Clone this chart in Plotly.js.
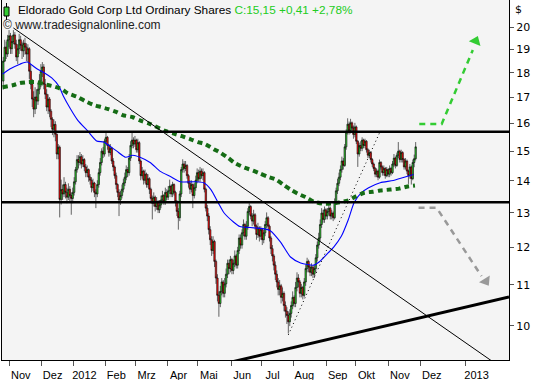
<!DOCTYPE html>
<html><head><meta charset="utf-8">
<script src="https://cdn.plot.ly/plotly-3.0.1.min.js"></script>
<style>html,body{margin:0;padding:0;background:#fff}#chart{width:534px;height:380px}</style>
</head><body><div id="chart"></div>
<script>
// Daily bars, trading days from 2011-10-25 to 2012-11-27
const firstDay = [2011, 9, 25];
const open = [17.65,18.49,19.10,18.80,19.43,
19.61,19.03,19.35,19.65,19.23,18.67,19.03,19.43,19.18,18.94,
19.27,19.10,18.80,19.03,18.06,17.52,16.93,16.54,17.01,16.85,
17.32,17.65,18.06,18.24,17.52,17.12,16.62,16.93,16.46,16.15,
15.78,15.96,15.60,14.90,15.14,13.41,13.72,13.58,13.88,13.63,
13.48,13.73,13.53,13.44,13.63,13.97,14.37,14.71,14.61,14.81,
14.56,14.71,14.46,14.27,14.37,14.12,14.02,13.78,13.93,13.63,
13.58,13.88,14.27,14.61,15.00,14.90,15.35,15.49,15.20,14.95,
15.10,14.66,14.46,14.17,13.88,13.63,13.39,13.53,13.73,13.93,
14.12,14.37,14.27,14.76,15.20,15.39,15.25,15.39,15.05,15.30,
14.66,14.17,14.32,14.02,14.22,13.88,14.07,13.73,13.44,13.29,
13.48,13.19,13.34,13.09,13.24,13.39,13.53,13.34,13.63,13.48,
13.68,13.83,13.58,13.88,13.63,13.34,13.04,12.85,13.58,14.37,
14.56,14.41,14.51,14.17,13.92,13.73,13.88,13.53,13.78,14.02,
14.27,14.07,14.32,14.17,14.27,13.73,13.14,12.90,12.50,12.21,
11.91,12.16,11.61,11.17,10.73,10.53,10.83,11.07,10.78,11.02,
11.27,11.56,11.42,11.66,11.37,11.56,11.76,11.51,11.91,12.26,
12.06,12.41,12.65,12.31,12.60,13.04,13.19,12.90,12.75,12.94,
12.60,12.36,12.55,12.31,12.50,12.21,12.41,12.65,12.85,12.60,
12.26,11.96,11.76,11.51,11.27,11.07,10.88,10.97,10.68,10.78,
10.48,10.34,10.24,10.09,10.29,10.48,10.68,10.53,10.93,11.17,
11.07,10.78,10.93,10.73,11.07,11.42,11.61,11.46,11.32,11.46,
11.27,11.42,11.71,12.06,12.26,12.65,12.99,12.80,13.09,12.90,
13.04,13.14,12.90,12.99,12.85,13.34,13.68,13.92,14.12,14.37,
14.66,14.51,15.15,15.68,15.97,15.73,16.02,15.83,15.59,15.87,
15.35,14.90,15.20,15.10,15.39,15.20,15.35,15.05,14.86,14.95,
14.71,14.56,14.41,14.22,14.32,14.12,14.61,14.46,14.27,14.41,
14.17,14.37,14.22,14.41,14.27,14.56,14.76,14.51,14.86,15.00,
14.71,14.95,14.71,14.46,14.66,14.32,14.17,14.46,14.07,14.61,
14.74];
const high = [18.67,19.43,19.35,19.65,19.87,
19.74,19.61,19.87,19.78,19.43,19.23,19.70,19.61,19.35,19.43,
19.52,19.27,19.23,19.10,18.36,17.74,17.24,17.40,17.32,17.57,
17.94,18.36,18.45,18.36,17.74,17.32,17.12,17.01,16.54,16.23,
16.15,16.08,15.63,15.25,15.20,14.04,13.88,14.12,13.97,13.78,
13.92,13.83,13.63,13.78,14.12,14.46,14.86,14.86,14.97,14.90,
14.86,14.76,14.56,14.51,14.41,14.22,14.12,14.07,13.97,13.73,
14.02,14.41,14.76,15.10,15.15,15.44,15.68,15.54,15.25,15.25,
15.15,14.76,14.51,14.27,13.92,13.73,13.68,13.88,14.07,14.27,
14.51,14.46,14.90,15.35,15.71,15.49,15.54,15.44,15.44,15.35,
14.71,14.46,14.37,14.37,14.27,14.22,14.12,13.78,13.53,13.63,
13.53,13.48,13.39,13.39,13.53,13.68,13.58,13.78,13.73,13.83,
14.04,13.88,13.97,13.92,13.68,13.39,13.14,13.68,14.46,14.72,
14.66,14.66,14.56,14.22,14.02,14.02,13.92,13.92,14.17,14.41,
14.37,14.46,14.41,14.41,14.32,13.78,13.24,12.99,12.60,12.31,
12.31,12.21,11.66,11.27,10.83,10.97,11.17,11.12,11.17,11.42,
11.66,11.66,11.76,11.71,11.66,11.91,11.81,12.01,12.36,12.36,
12.51,12.80,12.70,12.75,13.14,13.29,13.24,12.99,13.09,12.99,
12.65,12.70,12.60,12.60,12.55,12.50,12.75,13.01,12.90,12.65,
12.31,12.06,11.81,11.61,11.37,11.17,11.12,11.02,10.93,10.83,
10.58,10.44,10.34,10.39,10.58,10.83,10.73,11.07,11.32,11.27,
11.12,11.02,10.97,11.17,11.52,11.71,11.66,11.51,11.56,11.51,
11.51,11.81,12.16,12.41,12.80,13.14,13.09,13.19,13.14,13.14,
13.24,13.19,13.09,13.04,13.44,13.78,14.07,14.27,14.51,14.81,
14.76,15.25,15.78,16.19,16.07,16.17,16.07,15.92,16.02,15.92,
15.39,15.30,15.35,15.49,15.44,15.44,15.39,15.10,15.05,15.00,
14.76,14.61,14.46,14.41,14.37,14.71,14.66,14.51,14.51,14.46,
14.46,14.41,14.51,14.46,14.66,14.90,14.81,14.95,15.32,15.05,
15.05,15.00,14.76,14.76,14.71,14.37,14.56,14.51,14.71,14.88,
15.32];
const low = [17.31,18.45,18.58,18.67,19.10,
18.80,18.80,19.23,19.03,18.49,18.36,18.80,18.94,18.58,18.67,
18.77,18.49,18.45,17.74,17.32,16.62,16.23,16.35,16.54,16.70,
17.12,17.40,17.82,17.32,16.93,16.46,16.35,16.23,15.86,15.57,
15.49,15.35,14.72,14.72,12.86,13.25,13.39,13.48,13.44,13.29,
13.39,13.34,12.94,13.29,13.53,13.88,14.27,14.41,14.51,14.41,
14.46,14.32,14.12,14.12,13.97,13.88,13.63,13.68,13.48,13.14,
13.48,13.78,14.17,14.51,14.76,14.81,15.25,15.05,14.81,14.86,
14.56,14.32,14.07,13.73,13.48,12.90,13.24,13.44,13.63,13.83,
14.02,14.12,14.17,14.66,15.10,15.10,15.15,14.95,14.95,14.56,
14.02,14.07,13.88,13.92,13.78,13.78,13.58,13.29,12.80,13.19,
13.04,13.09,12.99,12.99,13.14,13.29,13.24,13.24,13.39,13.39,
13.58,13.48,13.48,13.53,13.19,12.90,12.50,12.75,13.48,14.27,
14.27,14.32,14.07,13.78,13.58,13.63,13.14,13.44,13.68,13.92,
13.97,13.97,14.07,14.02,13.63,13.04,12.75,12.36,12.06,11.76,
11.81,11.46,11.02,10.58,10.21,10.44,10.73,10.68,10.68,10.93,
11.17,11.27,11.32,11.27,11.27,11.46,11.42,11.42,11.81,11.96,
11.96,12.31,12.21,12.21,12.50,12.94,12.80,12.60,12.65,12.50,
12.21,12.26,12.16,12.21,12.06,12.11,12.31,12.55,12.50,12.16,
11.81,11.61,11.37,11.12,10.93,10.73,10.73,10.53,10.58,10.34,
10.19,10.04,9.82,9.99,10.19,10.39,10.44,10.44,10.83,10.93,
10.68,10.68,10.63,10.68,10.97,11.32,11.32,11.22,11.22,11.17,
11.17,11.32,11.61,11.96,12.16,12.55,12.70,12.70,12.80,12.80,
12.94,12.80,12.80,12.75,12.80,13.24,13.58,13.83,14.02,14.27,
14.37,14.46,15.05,15.59,15.59,15.63,15.68,15.44,15.49,15.25,
14.46,14.81,15.00,15.00,15.10,15.10,14.95,14.76,14.76,14.61,
14.46,14.32,14.12,14.12,14.02,14.07,14.37,14.17,14.17,14.07,
14.12,14.12,14.12,14.17,14.22,14.46,14.41,14.46,14.76,14.61,
14.61,14.61,14.37,14.37,14.22,13.90,14.07,13.88,14.02,14.45,
14.68];
const close = [18.49,19.10,18.80,19.43,19.61,
19.03,19.35,19.65,19.23,18.67,19.03,19.43,19.18,18.94,19.27,
19.10,18.80,19.03,18.06,17.52,16.93,16.54,17.01,16.85,17.32,
17.65,18.06,18.24,17.52,17.12,16.62,16.93,16.46,16.15,15.78,
15.96,15.60,14.90,15.14,13.41,13.72,13.58,13.88,13.63,13.48,
13.73,13.53,13.44,13.63,13.97,14.37,14.71,14.61,14.81,14.56,
14.71,14.46,14.27,14.37,14.12,14.02,13.78,13.93,13.63,13.58,
13.88,14.27,14.61,15.00,14.90,15.35,15.49,15.20,14.95,15.10,
14.66,14.46,14.17,13.88,13.63,13.39,13.53,13.73,13.93,14.12,
14.37,14.27,14.76,15.20,15.39,15.25,15.39,15.05,15.30,14.66,
14.17,14.32,14.02,14.22,13.88,14.07,13.73,13.44,13.29,13.48,
13.19,13.34,13.09,13.24,13.39,13.53,13.34,13.63,13.48,13.68,
13.83,13.58,13.88,13.63,13.34,13.04,12.85,13.58,14.37,14.56,
14.41,14.51,14.17,13.92,13.73,13.88,13.53,13.78,14.02,14.27,
14.07,14.32,14.17,14.27,13.73,13.14,12.90,12.50,12.21,11.91,
12.16,11.61,11.17,10.73,10.53,10.83,11.07,10.78,11.02,11.27,
11.56,11.42,11.66,11.37,11.56,11.76,11.51,11.91,12.26,12.06,
12.41,12.65,12.31,12.60,13.04,13.19,12.90,12.75,12.94,12.60,
12.36,12.55,12.31,12.50,12.21,12.41,12.65,12.85,12.60,12.26,
11.96,11.76,11.51,11.27,11.07,10.88,10.97,10.68,10.78,10.48,
10.34,10.24,10.09,10.29,10.48,10.68,10.53,10.93,11.17,11.07,
10.78,10.93,10.73,11.07,11.42,11.61,11.46,11.32,11.46,11.27,
11.42,11.71,12.06,12.26,12.65,12.99,12.80,13.09,12.90,13.04,
13.14,12.90,12.99,12.85,13.34,13.68,13.92,14.12,14.37,14.66,
14.51,15.15,15.68,15.97,15.73,16.02,15.83,15.59,15.87,15.35,
14.90,15.20,15.10,15.39,15.20,15.35,15.05,14.86,14.95,14.71,
14.56,14.41,14.22,14.32,14.12,14.61,14.46,14.27,14.41,14.17,
14.37,14.22,14.41,14.27,14.56,14.76,14.51,14.86,15.00,14.71,
14.95,14.71,14.46,14.66,14.32,14.17,14.46,14.07,14.61,14.74,
15.15];

// Moving averages
const maFastDates = ['2011-10-25','2011-11-01','2011-11-10','2011-11-17','2011-11-28','2011-12-05','2011-12-12','2011-12-19','2011-12-22','2011-12-29','2012-01-05','2012-01-16','2012-01-24','2012-01-31','2012-02-06','2012-02-13','2012-02-21','2012-02-28','2012-03-06','2012-03-15','2012-03-26','2012-04-04','2012-04-13','2012-04-27','2012-05-07','2012-05-14','2012-05-21','2012-05-25','2012-06-05','2012-06-11','2012-06-20','2012-07-03','2012-07-10','2012-07-19','2012-07-30','2012-08-08','2012-08-21','2012-08-27','2012-09-04','2012-09-10','2012-09-17','2012-09-24','2012-09-28','2012-10-05','2012-10-12','2012-10-24','2012-11-06','2012-11-15','2012-11-26'];
const maFast = [17.94,18.15,18.36,18.45,18.15,17.99,17.78,17.44,17.05,16.54,16.11,15.71,15.36,15.32,15.18,15.00,14.79,14.86,14.79,14.61,14.31,14.14,13.97,13.97,13.94,13.72,13.31,13.00,12.71,12.59,12.56,12.53,12.47,12.15,11.73,11.57,11.51,11.60,11.84,12.01,12.30,12.80,13.31,13.62,13.78,13.94,14.01,14.11,14.21];
const maSlowDates = ['2011-10-25','2011-11-03','2011-11-10','2011-11-18','2011-11-28','2011-12-05','2011-12-13','2011-12-21','2011-12-27','2012-01-05','2012-01-12','2012-01-20','2012-01-27','2012-02-03','2012-02-13','2012-02-17','2012-02-28','2012-03-06','2012-03-14','2012-03-30','2012-04-06','2012-04-16','2012-04-24','2012-05-01','2012-05-08','2012-05-16','2012-05-23','2012-05-30','2012-06-06','2012-06-14','2012-06-22','2012-06-29','2012-07-06','2012-07-16','2012-07-23','2012-07-30','2012-08-06','2012-08-14','2012-08-21','2012-08-29','2012-09-06','2012-09-13','2012-09-24','2012-10-01','2012-10-09','2012-10-17','2012-10-24','2012-11-02','2012-11-12','2012-11-20','2012-11-27'];
const maSlow = [17.40,17.48,17.57,17.61,17.61,17.52,17.44,17.32,17.16,17.01,16.85,16.70,16.62,16.54,16.42,16.31,16.23,16.11,16.00,15.71,15.63,15.53,15.42,15.32,15.25,15.07,14.93,14.76,14.58,14.44,14.34,14.24,14.14,14.04,13.88,13.72,13.59,13.47,13.34,13.28,13.28,13.31,13.38,13.50,13.62,13.65,13.69,13.72,13.75,13.82,13.85];

// Drawn lines (trendlines, levels, projections)
const resistance = 15.69;
const support = 13.32;
const levelSpan = ['2011-10-24','2013-02-01'];
const downTrendX = ['2011-11-03 12:00','2013-01-31'];
const downTrendY = [19.97, 8.96];
const upTrendX = ['2012-06-01','2013-01-31'];
const upTrendY = [9.19, 10.69];
const dotTrendX = ['2012-07-26 12:00','2012-10-23 12:00'];
const dotTrendY = [9.79, 15.65];
const bullX = ['2012-11-30','2012-12-15 12:00','2013-01-06'];
const bullY = [15.98, 15.98, 18.97];
const bullHeadX = ['2013-01-08'];
const bullHeadY = [19.37];
const bearX = ['2012-11-29 12:00','2012-12-12','2013-01-12'];
const bearY = [13.15, 13.15, 11.22];
const bearHeadX = ['2013-01-15'];
const bearHeadY = [11.09];

const tickDates = ['2011-11-01','2011-12-01','2012-01-02','2012-02-01','2012-03-01','2012-04-02','2012-05-01','2012-06-01','2012-07-02','2012-08-01','2012-09-03','2012-10-01','2012-11-01','2012-12-01','2013-01-01'];
const tickLabels = ['Nov','Dez','2012','Feb','Mrz','Apr','Mai','Jun','Jul','Aug','Sep','Okt','Nov','Dez','2013'];
const yTicks = [10,11,12,13,14,15,16,17,18,19,20];

// trading-day dates for the bars
const dates = [];
let t = Date.UTC(firstDay[0], firstDay[1], firstDay[2]);
while (dates.length < close.length) {
  const wd = new Date(t).getUTCDay();
  if (wd !== 0 && wd !== 6) dates.push(new Date(t).toISOString().slice(0,10) + ' 12:00');
  t += 86400000;
}
// weekend gaps up to the last bar
const weekendBreaks = [];
for (let s = Date.UTC(2011,9,29); s <= Date.UTC(2012,10,24); s += 7*86400000) {
  weekendBreaks.push(new Date(s).toISOString().slice(0,10));
}

const FONT = 'Liberation Sans, Arial, sans-serif';
const lineTrace = (x, y, color, width, dash) => ({
  type: 'scatter', mode: 'lines', x: x, y: y, hoverinfo: 'skip',
  line: {color: color, width: width, dash: dash || 'solid'}
});

const traces = [
  {
    type: 'candlestick', x: dates, open: open, high: high, low: low, close: close,
    whiskerwidth: 0,
    increasing: {line: {color: '#000000', width: 0.6}, fillcolor: '#33cc33'},
    decreasing: {line: {color: '#000000', width: 0.6}, fillcolor: '#ff1010'},
    hoverinfo: 'skip'
  },
  Object.assign(lineTrace(maFastDates, maFast, '#0000ff', 1.1), {line: {color: '#0000ff', width: 1.1, shape: 'spline', smoothing: 0.6}}),
  Object.assign(lineTrace(maSlowDates, maSlow, '#156c15', 4), {line: {color: '#156c15', width: 4, dash: '5px,4px', shape: 'spline', smoothing: 0.6}}),
  lineTrace(downTrendX, downTrendY, '#000000', 1),
  lineTrace(upTrendX, upTrendY, '#000000', 3),
  lineTrace(dotTrendX, dotTrendY, '#000000', 1, '1px,3px'),
  lineTrace(levelSpan, [resistance, resistance], '#000000', 2.6),
  lineTrace(levelSpan, [support, support], '#000000', 2.6),
  lineTrace(bullX, bullY, '#33cc33', 2.5, '6px,5px'),
  {type: 'scatter', mode: 'markers', x: bullHeadX, y: bullHeadY, hoverinfo: 'skip',
   marker: {symbol: 'triangle-up', size: 11, angle: 23, color: '#33cc33', line: {width: 0}}},
  lineTrace(bearX, bearY, '#999999', 2.5, '6px,5px'),
  {type: 'scatter', mode: 'markers', x: bearHeadX, y: bearHeadY, hoverinfo: 'skip',
   marker: {symbol: 'triangle-down', size: 11, angle: -32, color: '#999999', line: {width: 0}}}
];

const layout = {
  width: 534, height: 380,
  margin: {l: 2, r: 25, t: 0, b: 20, pad: 0},
  paper_bgcolor: '#ffffff', plot_bgcolor: '#f4f4f4',
  showlegend: false, hovermode: false,
  boxgap: 0, boxgroupgap: 0,
  font: {family: FONT, size: 11, color: '#000'},
  xaxis: {
    type: 'date', range: ['2011-10-24 15:00','2013-01-31'],
    rangebreaks: [{values: weekendBreaks, dvalue: 2*86400000}],
    rangeslider: {visible: false},
    tickmode: 'array', tickvals: tickDates, ticktext: tickLabels,
    ticks: 'outside', ticklen: 5, tickcolor: '#555', tickwidth: 1,
    ticklabelshift: 11,
    tickfont: {family: FONT, size: 11, color: '#000'},
    showgrid: false, zeroline: false,
    showline: true, linecolor: '#000', linewidth: 1
  },
  yaxis: {
    type: 'log', side: 'right',
    range: [Math.log10(9.234), Math.log10(21.31)],
    tickmode: 'array', tickvals: yTicks, ticktext: yTicks.map(String),
    ticks: 'outside', ticklen: 4, tickcolor: '#555', tickwidth: 1,
    tickfont: {family: 'DejaVu Sans, sans-serif', size: 11, color: '#000'},
    showgrid: false, zeroline: false,
    showline: true, mirror: true, linecolor: '#000', linewidth: 1
  },
  annotations: [
    {xref: 'paper', yref: 'paper', x: 0, y: 1, xanchor: 'left', yanchor: 'middle',
     xshift: 14, yshift: -10, showarrow: false,
     text: 'Eldorado Gold Corp Ltd Ordinary Shares <span style="color:#22cc22">C:15,15 +0,41 +2,78%</span>',
     font: {family: FONT, size: 11.8, color: '#000'}},
    {xref: 'paper', yref: 'paper', x: 0, y: 1, xanchor: 'left', yanchor: 'middle',
     xshift: -1, yshift: -25, showarrow: false,
     text: '© www.tradesignalonline.com',
     font: {family: FONT, size: 12, color: '#222'}},
    {xref: 'paper', yref: 'paper', x: 1, y: 1, xanchor: 'left', yanchor: 'middle',
     xshift: 4, yshift: -9, showarrow: false, text: '$',
     font: {family: 'DejaVu Sans, sans-serif', size: 11, color: '#000'}}
  ],
  shapes: [
    {type: 'line', xref: 'paper', yref: 'paper', xsizemode: 'pixel', ysizemode: 'pixel',
     xanchor: 0, yanchor: 1, x0: 4.5, x1: 4.5, y0: -3, y1: -20, line: {color: '#000', width: 1}},
    {type: 'rect', xref: 'paper', yref: 'paper', xsizemode: 'pixel', ysizemode: 'pixel',
     xanchor: 0, yanchor: 1, x0: 2, x1: 7, y0: -7, y1: -16, fillcolor: '#33cc33', line: {color: '#000', width: 1}}
  ]
};

Plotly.newPlot('chart', traces, layout, {staticPlot: true, displayModeBar: false});
</script>
</body></html>
